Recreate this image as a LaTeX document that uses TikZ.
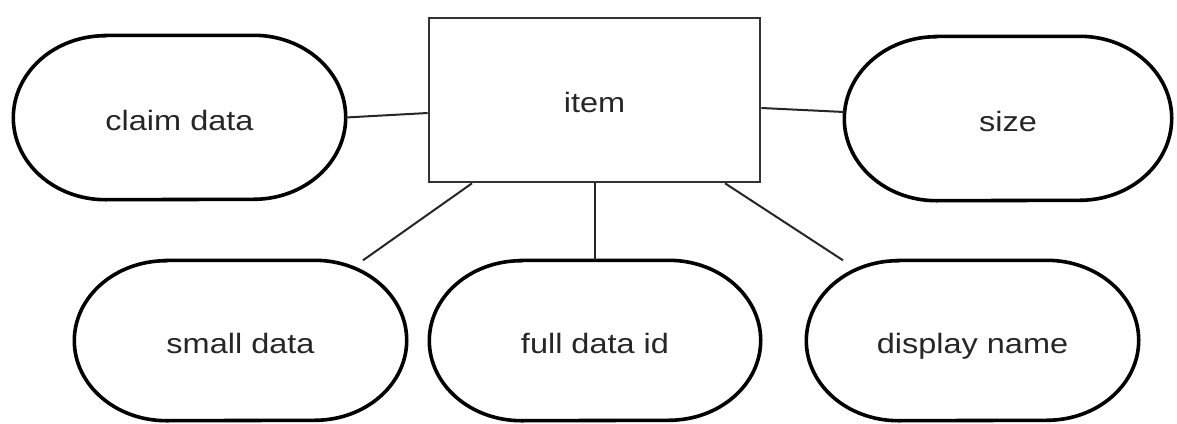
\documentclass[tikz,border=0pt]{standalone}
\usepackage{fontspec}
\setmainfont{Liberation Sans}
\usetikzlibrary{calc}
\newcommand{\lbl}[1]{\scalebox{1.16}[1]{#1}}
% outline with half-ellipse ends around a node: #1 node, #2 end width, #3 half height
\newcommand{\pillout}[3]{%
  \draw[pill] ($(#1.north west)+(#2,0)$) -- ($(#1.north east)+(-#2,0)$)
    arc[start angle=-90, end angle=90, x radius=#2, y radius=#3]
    -- ($(#1.south west)+(#2,0)$)
    arc[start angle=90, end angle=270, x radius=#2, y radius=#3] -- cycle;}
\begin{document}
\begin{tikzpicture}[x=1pt,y=-1pt,
  every node/.style={font=\fontsize{28}{32}\selectfont, text=black!85,
    text height=25pt, text depth=0pt, inner sep=0pt},
  attr/.style={rectangle, minimum width=332pt, minimum height=#1},
  attr/.default=164pt,
  pill/.style={draw=black, line width=3.6pt},
  entity/.style={draw=black!80, line width=2.6pt, rectangle,
    minimum width=331pt, minimum height=164pt},
  link/.style={draw=black!85, line width=2pt}]
\useasboundingbox (0,0) rectangle (1177,423);

% entity in the middle
\node[entity] (item) at (594.5,100) {\lbl{item}};

% attributes on the top row
\node[attr] (claim) at (179.5,117.5) {\lbl{claim data}};
\node[attr, minimum width=327pt] (size) at (1008,118.5) {\lbl{size}};

% attributes on the bottom row
\node[attr=160pt] (small) at (240.5,340.5) {\lbl{small data}};
\node[attr=160pt, minimum width=331pt] (full) at (595,340.5) {\lbl{full data id}};
\node[attr=160pt] (display) at (972.5,340.5) {\lbl{display name}};

% outlines of the attributes
\pillout{claim}{92}{82}
\pillout{size}{92}{82}
\pillout{small}{92}{80}
\pillout{full}{92}{80}
\pillout{display}{92}{80}

% links from the entity to its attributes
\draw[link] (claim.east) -- ([yshift=-13pt]item.west);
\draw[link] ([yshift=-8pt]item.east) -- ([yshift=6.5pt]size.west);
\draw[link] ([xshift=-122.5pt]item.south) -- ([xshift=122.5pt]small.north);
\draw[link] (item.south) -- (item.south |- full.north);
\draw[link] ([xshift=130.5pt]item.south) -- ([xshift=-129.5pt]display.north);
\end{tikzpicture}
\end{document}
